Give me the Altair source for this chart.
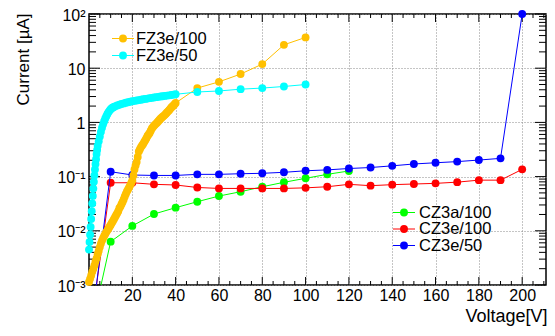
import altair as alt
import pandas as pd

W, H = 457, 271
FONT = "Liberation Sans"

# ---------------- data ----------------
cz3a_100_v = [0, 10, 20, 30, 40, 50, 60, 70, 80, 90, 100, 110, 120]
cz3a_100_i = [0.0001, 0.0063, 0.0123, 0.0204, 0.0267, 0.0344, 0.0438, 0.0526,
              0.065, 0.0785, 0.093, 0.11, 0.127]

cz3e_100_v = [0, 10, 20, 30, 40, 50, 60, 70, 80, 90, 100, 110, 120, 130, 140,
              150, 160, 170, 180, 190, 200]
cz3e_100_i = [0.0001, 0.077, 0.077, 0.072, 0.070, 0.063, 0.0605, 0.0605, 0.0605,
              0.0605, 0.062, 0.065, 0.072, 0.068, 0.071, 0.073, 0.075, 0.079,
              0.086, 0.086, 0.136]

cz3e_50_v = [0, 10, 20, 30, 40, 50, 60, 70, 80, 90, 100, 110, 120, 130, 140,
             150, 160, 170, 180, 190, 200]
cz3e_50_i = [0.00008, 0.123, 0.107, 0.105, 0.105, 0.11, 0.11, 0.113, 0.115,
             0.12, 0.128, 0.133, 0.141, 0.147, 0.158, 0.171, 0.18, 0.189,
             0.202, 0.217, 100.0]

fz3e_100_v = [0, 0.5, 1, 1.5, 2, 2.5, 3, 3.5, 4, 4.5, 5, 5.5, 6, 6.5, 7, 7.5,
              8, 8.5, 9, 9.5, 10, 10.5, 11, 11.5, 12, 12.5, 13, 13.5, 14, 14.5,
              15, 15.5, 16, 16.5, 17, 17.5, 18, 18.5, 19, 19.5, 20, 20.5, 21,
              21.5, 22, 22.5, 23, 23.5, 24, 24.5, 25, 25.5, 26, 26.5, 27, 27.5,
              28, 28.5, 29, 29.5, 30, 30.5, 31, 31.5, 32, 32.5, 33, 33.5, 34,
              34.5, 35, 35.5, 36, 36.5, 37, 37.5, 38, 38.5, 39, 39.5, 40,
              50, 60, 70, 80, 90, 100]
fz3e_100_i = [0.00114, 0.0013, 0.0015, 0.00175, 0.0020, 0.0023, 0.0027, 0.0031,
              0.0037, 0.0043, 0.0050, 0.0058, 0.0066, 0.0073, 0.0080, 0.0087,
              0.0095, 0.0102, 0.0110, 0.0119, 0.0128, 0.0139, 0.0150, 0.0163,
              0.0178, 0.0194, 0.021, 0.023, 0.026, 0.028, 0.031, 0.034, 0.038,
              0.043, 0.048, 0.053, 0.058, 0.063, 0.069, 0.076, 0.085, 0.105,
              0.135, 0.16, 0.185, 0.23, 0.29, 0.32, 0.35, 0.375, 0.40, 0.435,
              0.47, 0.51, 0.56, 0.60, 0.64, 0.70, 0.77, 0.82, 0.87, 0.91, 0.95,
              1.00, 1.05, 1.11, 1.17, 1.22, 1.27, 1.32, 1.38, 1.45, 1.52, 1.60,
              1.68, 1.78, 1.88, 1.96, 2.05, 2.16, 2.28,
              4.3, 5.6, 7.8, 11.9, 27.0, 37.0]

fz3e_50_v = [0, 0.25, 0.5, 0.75, 1.0, 1.25, 1.5, 1.75, 2.0, 2.25, 2.5, 2.75,
             3.0, 3.25, 3.5, 3.75, 4.0, 4.5, 5, 5.5, 6, 6.5, 7, 7.5, 8, 8.5, 9,
             9.5, 10, 10.5, 11, 11.5, 12, 13, 14, 15, 16, 17, 18, 19, 20, 21,
             22, 23, 24, 25, 26, 27, 28, 29, 30, 31, 32, 33, 34, 35, 36, 37, 38,
             39, 40, 50, 60, 70, 80, 90, 100]
fz3e_50_i = [0.0045, 0.0062, 0.0085, 0.0118, 0.0165, 0.023, 0.032, 0.044,
             0.060, 0.080, 0.105, 0.135, 0.17, 0.21, 0.26, 0.31, 0.37, 0.45,
             0.55, 0.67, 0.80, 0.92, 1.05, 1.18, 1.30, 1.43, 1.55, 1.65, 1.75,
             1.82, 1.88, 1.93, 1.98, 2.05, 2.12, 2.18, 2.24, 2.30, 2.35, 2.40,
             2.45, 2.50, 2.54, 2.58, 2.62, 2.67, 2.71, 2.75, 2.80, 2.84, 2.88,
             2.92, 2.96, 3.00, 3.04, 3.08, 3.12, 3.16, 3.20, 3.25, 3.30,
             3.64, 3.8, 4.1, 4.3, 4.6, 5.0]

series_names = ["CZ3a/100", "CZ3e/100", "CZ3e/50", "FZ3e/100", "FZ3e/50"]
series_colors = ["#00ff00", "#ff0000", "#0000ff", "#ffc000", "#00ffff"]
series_data = [(cz3a_100_v, cz3a_100_i), (cz3e_100_v, cz3e_100_i),
               (cz3e_50_v, cz3e_50_i), (fz3e_100_v, fz3e_100_i),
               (fz3e_50_v, fz3e_50_i)]

x_label_values = [20, 40, 60, 80, 100, 120, 140, 160, 180, 200]
x_minor_values = [5, 10, 15, 25, 30, 35, 45, 50, 55, 65, 70, 75, 85, 90, 95,
                  105, 110, 115, 125, 130, 135, 145, 150, 155, 165, 170, 175,
                  185, 190, 195, 205, 210]
y_label_values = [0.001, 0.01, 0.1, 1, 10, 100]
y_minor_values = [m * d for d in [0.001, 0.01, 0.1, 1, 10] for m in range(2, 10)]

# ---------------- scales / axes ----------------
xscale = alt.Scale(domain=[0, 211], nice=False, zero=False)
yscale = alt.Scale(type="log", domain=[0.001, 100], nice=False)

xaxis = alt.Axis(values=x_label_values, format="d", ticks=False, domain=False,
                 grid=True, gridColor="#8a8a8a", gridDash=[1, 2], gridWidth=1,
                 labelFont=FONT, labelFontSize=16, labelColor="black",
                 labelPadding=2, labelFlush=False, labelOverlap=False,
                 title="Voltage[V]", titleFont=FONT, titleFontSize=18,
                 titleFontWeight="normal", titleColor="black",
                 titleX=458, titleY=36, titleAlign="right",
                 titleBaseline="alphabetic")

ylabel_expr = ("datum.value >= 99 ? '10²' : datum.value >= 9 ? '10' : "
               "datum.value >= 0.9 ? '1' : datum.value >= 0.09 ? '10⁻¹' : "
               "datum.value >= 0.009 ? '10⁻²' : '10⁻³'")
yaxis = alt.Axis(values=y_label_values, labelExpr=ylabel_expr, ticks=False,
                 domain=False, grid=True, gridColor="#8a8a8a", gridDash=[1, 2],
                 gridWidth=1, labelFont=FONT, labelFontSize=16,
                 labelColor="black", labelPadding=4, labelFlush=False,
                 labelOverlap=False, labelBaseline="middle", labelOffset=1,
                 title="Current [µA]", titleFont=FONT, titleFontSize=17,
                 titleFontWeight="normal", titleColor="black", titleAngle=270,
                 titleX=-66, titleY=-1, titleAlign="right",
                 titleBaseline="middle")


def X(field):
    return alt.X(field, type="quantitative", scale=xscale, axis=xaxis)


def Y(field):
    return alt.Y(field, type="quantitative", scale=yscale, axis=yaxis)


layers = []

# tick marks drawn inside the frame (ROOT style)
xmaj = pd.DataFrame({"t": x_label_values})
xmin = pd.DataFrame({"t": x_minor_values})
ymaj = pd.DataFrame({"t": y_label_values})
ymin = pd.DataFrame({"t": y_minor_values})

for df, ln in [(xmaj, 8), (xmin, 4)]:
    layers.append(alt.Chart(df).mark_rule(color="black", strokeWidth=1).encode(
        x=X("t"), y=alt.value(H), y2=alt.value(H - ln)))
    layers.append(alt.Chart(df).mark_rule(color="black", strokeWidth=1).encode(
        x=X("t"), y=alt.value(0), y2=alt.value(ln)))
for df, ln in [(ymaj, 11), (ymin, 7)]:
    layers.append(alt.Chart(df).mark_rule(color="black", strokeWidth=1).encode(
        y=Y("t"), x=alt.value(0), x2=alt.value(ln)))
    layers.append(alt.Chart(df).mark_rule(color="black", strokeWidth=1).encode(
        y=Y("t"), x=alt.value(W), x2=alt.value(W - ln)))

# series: line then markers, in ROOT drawing order
for name, color, (vs, cs) in zip(series_names, series_colors, series_data):
    df = pd.DataFrame({"V": vs, "I": cs, "series": name})
    layers.append(alt.Chart(df).mark_line(color=color, strokeWidth=1,
                                          clip=True).encode(
        x=X("V"), y=Y("I"), order="V:Q"))
    layers.append(alt.Chart(df).transform_filter("datum.I >= 0.001").mark_point(
        filled=True, color=color, size=62, opacity=1).encode(
        x=X("V"), y=Y("I")))

# legends (two boxes, as in the original)
legend_pos = {
    "FZ3e/100": (23, 45, 34, 47, 24.5),
    "FZ3e/50": (23, 45, 34, 47, 41.5),
    "CZ3a/100": (304, 326, 315, 330, 198.5),
    "CZ3e/100": (304, 326, 315, 330, 215),
    "CZ3e/50": (304, 326, 315, 330, 231.5),
}
for name, color in zip(series_names, series_colors):
    x1, x2, xm, xt, yy = legend_pos[name]
    ldf = pd.DataFrame({"label": [name]})
    layers.append(alt.Chart(ldf).mark_rule(color=color, strokeWidth=1).encode(
        x=alt.value(x1), x2=alt.value(x2), y=alt.value(yy)))
    layers.append(alt.Chart(ldf).mark_point(filled=True, color=color, size=62,
                                            opacity=1).encode(
        x=alt.value(xm), y=alt.value(yy)))
    layers.append(alt.Chart(ldf).mark_text(align="left", baseline="middle",
                                           font=FONT, fontSize=16.5,
                                           color="black").encode(
        x=alt.value(xt), y=alt.value(yy), text="label:N"))

chart = alt.layer(*layers).properties(
    width=W, height=H,
    autosize=alt.AutoSizeParams(type="none"),
    padding={"left": 81, "top": 6, "right": 1, "bottom": 43},
).configure_view(stroke="black", strokeWidth=1.5)

chart.save("out.html", embed_options={"renderer": "svg", "actions": False})
